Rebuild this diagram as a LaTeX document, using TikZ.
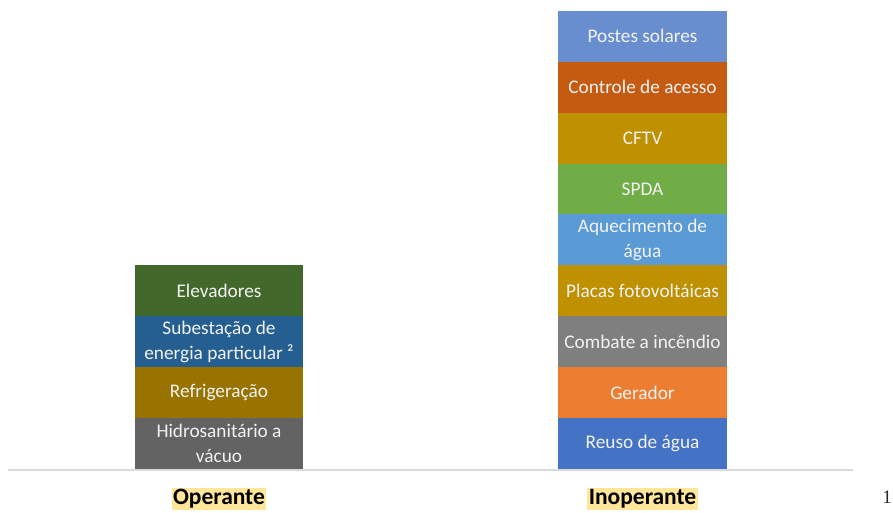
\documentclass[tikz,border=0pt]{standalone}
\usepackage{fontspec}
\setmainfont{Carlito}
\newfontfamily\numfont{Liberation Serif}
\definecolor{cElev}{HTML}{43682B}
\definecolor{cSub}{HTML}{255E91}
\definecolor{cRefr}{HTML}{997300}
\definecolor{cHidro}{HTML}{636363}
\definecolor{cPostes}{HTML}{698ED0}
\definecolor{cCtrl}{HTML}{C55A11}
\definecolor{cCftv}{HTML}{BF9000}
\definecolor{cSpda}{HTML}{70AD47}
\definecolor{cAquec}{HTML}{5B9BD5}
\definecolor{cPlacas}{HTML}{BF9000}
\definecolor{cComb}{HTML}{7F7F7F}
\definecolor{cGer}{HTML}{ED7D31}
\definecolor{cReuso}{HTML}{4472C4}
\definecolor{cHigh}{HTML}{FFE699}
\definecolor{cAxis}{HTML}{D9D9D9}
\definecolor{cTxt}{HTML}{F2F2F2}
\tikzset{
  seg/.style={fill=#1, draw=none, minimum width=168.5pt, minimum height=50.9pt,
    inner sep=0pt, outer sep=0pt, text=cTxt, align=center,
    font=\fontsize{19.3}{24.5}\selectfont},
  cat/.style={fill=cHigh, inner sep=1.5pt, text=black,
    font=\fontsize{23.5}{26}\bfseries\selectfont},
}
\begin{document}
\begin{tikzpicture}[x=1pt,y=-1pt]
\useasboundingbox (0,0) rectangle (893,512);
% Operante bar
\node[seg=cHidro] (hidro) at (219,443.5) {Hidrosanitário a\\vácuo};
\node[seg=cRefr, anchor=south] (refr) at (hidro.north) {Refrigeração};
\node[seg=cSub, anchor=south] (sub) at (refr.north) {Subestação de\\energia particular ²};
\node[seg=cElev, anchor=south] (elev) at (sub.north) {Elevadores};
% Inoperante bar
\node[seg=cReuso] (reuso) at (642.5,443.5) {Reuso de água};
\node[seg=cGer, anchor=south] (ger) at (reuso.north) {Gerador};
\node[seg=cComb, anchor=south] (comb) at (ger.north) {Combate a incêndio};
\node[seg=cPlacas, anchor=south] (placas) at (comb.north) {Placas fotovoltáicas};
\node[seg=cAquec, anchor=south] (aquec) at (placas.north) {Aquecimento de\\água};
\node[seg=cSpda, anchor=south] (spda) at (aquec.north) {SPDA};
\node[seg=cCftv, anchor=south] (cftv) at (spda.north) {CFTV};
\node[seg=cCtrl, anchor=south] (ctrl) at (cftv.north) {Controle de acesso};
\node[seg=cPostes, anchor=south] (postes) at (ctrl.north) {Postes solares};
% axis
\coordinate (axL) at (8,470);
\coordinate (axR) at (853,470);
\draw[cAxis, line width=2pt] (axL) -- (axR);
% categories
\node[cat] (op) at (219,499) {Operante};
\node[cat] (inop) at (642.5,499) {Inoperante};
\node[font=\numfont\fontsize{19}{21}\selectfont, text=black!85] (pg) at (887,497) {1};
\end{tikzpicture}
\end{document}
